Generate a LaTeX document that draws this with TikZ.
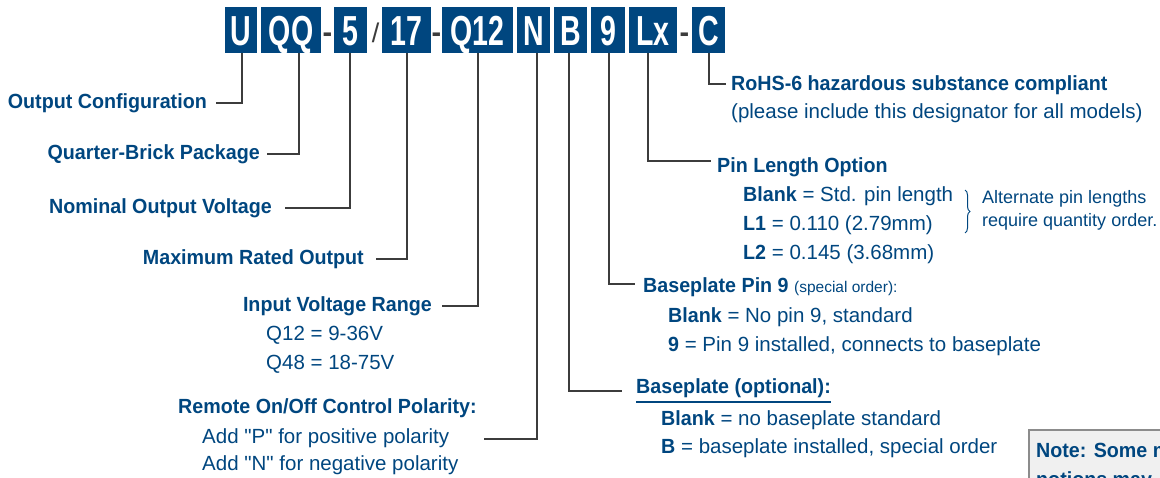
\documentclass[tikz,border=0pt]{standalone}
\usepackage{fontspec}
\setmainfont{Liberation Sans}[Ligatures=TeXOff, BoldFeatures={FakeStretch=0.96}]
\newfontfamily\boxfont{Liberation Sans}[FakeStretch=0.68]
\usetikzlibrary{decorations.pathreplacing}
\definecolor{navy}{RGB}{0,70,127}
\definecolor{linegray}{RGB}{60,60,60}
\definecolor{notefill}{RGB}{240,240,240}
\definecolor{noteedge}{RGB}{140,140,140}
\begin{document}
\begin{tikzpicture}[x=1pt,y=-1pt,
  code/.style={fill=navy, text=white, inner sep=0pt, minimum height=46pt,
    text height=30pt, text depth=0pt, font=\boxfont\bfseries\fontsize{42}{42}\selectfont},
  sepsym/.style={text=linegray, inner sep=0pt, anchor=base, font=\bfseries\fontsize{30}{30}\selectfont},
  slashsym/.style={text=linegray, inner sep=0pt, anchor=base, font=\fontsize{27}{27}\selectfont},
  lbl/.style={text=navy, inner sep=0pt, font=\bfseries\fontsize{20.5}{24}\selectfont},
  txt/.style={text=navy, inner sep=0pt, font=\fontsize{20.5}{24}\selectfont},
  smalltxt/.style={text=navy, inner sep=0pt, font=\fontsize{18}{21}\selectfont},
  conn/.style={draw=linegray, line width=1.1pt},
]
\useasboundingbox (0,0) rectangle (1160,477);
\clip (0,0) rectangle (1160,477);

% code boxes
\node[code, minimum width=32pt] (bU)   at (241,30)   {U};
\node[code, minimum width=60pt] (bQQ)  at (291,30)   {QQ};
\node[code, minimum width=33pt] (b5)   at (350.5,30) {5};
\node[code, minimum width=49pt] (b17)  at (406.5,30) {17};
\node[code, minimum width=71pt] (bQ12) at (477.5,30) {Q12};
\node[code, minimum width=33pt] (bN)   at (533.5,30) {N};
\node[code, minimum width=33pt] (bB)   at (570.5,30) {B};
\node[code, minimum width=34pt] (b9)   at (608,30)   {9};
\node[code, minimum width=48pt] (bLx)  at (653,30)   {Lx};
\node[code, minimum width=33pt] (bC)   at (708.5,30) {C};

\node[sepsym]   (d1) at (327.5,42.5) {-};
\node[slashsym] (s1) at (375.5,42.5) {/};
\node[sepsym]   (d2) at (436.5,42.5) {-};
\node[sepsym]   (d3) at (684.5,42.5) {-};

% left labels
\node[lbl, anchor=east] (lOut) at (207,103) {Output Configuration};
\node[lbl, anchor=east] (lQB)  at (260,154) {Quarter-Brick Package};
\node[lbl, anchor=east] (lNom) at (272,208) {Nominal Output Voltage};
\node[lbl, anchor=east] (lMax) at (364,259) {Maximum Rated Output};
\node[lbl, anchor=east] (lIn)  at (432,306) {Input Voltage Range};
\node[txt, anchor=base west] (lQ12) at (266,340) {Q12 = 9-36V};
\node[txt, anchor=base west] (lQ48) at (266,369) {Q48 = 18-75V};
\node[lbl, anchor=base west] (lRem) at (178,413) {Remote On/Off Control Polarity:};
\node[txt, anchor=base west] (lAddP) at (202,443) {Add "P" for positive polarity};
\node[txt, anchor=base west] (lAddN) at (202,470) {Add "N" for negative polarity};
\coordinate (nEnd) at (484,439);

% right labels
\node[lbl, anchor=base west] (rRoHS) at (731,90) {RoHS-6 hazardous substance compliant};
\node[txt, anchor=base west] (rPls)  at (731,118) {(please include this designator for all models)};
\node[lbl, anchor=base west] (rPin)  at (717,172) {Pin Length Option};
\node[txt, anchor=base west] (rPinA) at (743,201) {\textbf{Blank} = Std. pin length};
\node[txt, anchor=base west] (rPinB) at (743,230) {\textbf{L1} = 0.110 (2.79mm)};
\node[txt, anchor=base west] (rPinC) at (743,259) {\textbf{L2} = 0.145 (3.68mm)};
\node[smalltxt, anchor=base west] (rAlt1) at (982,203) {Alternate pin lengths};
\node[smalltxt, anchor=base west] (rAlt2) at (982,226) {require quantity order.};
\node[lbl, anchor=base west] (rBP9) at (643,292) {Baseplate Pin 9 {\mdseries\fontsize{15.5}{18}\selectfont(special order):}};
\node[txt, anchor=base west] (rBP9a) at (668,322) {\textbf{Blank} = No pin 9, standard};
\node[txt, anchor=base west] (rBP9b) at (668,351) {\textbf{9} = Pin 9 installed, connects to baseplate};
\node[lbl, anchor=base west] (rBPo) at (636,393) {Baseplate (optional):};
\node[txt, anchor=base west] (rBPa) at (661,425) {\textbf{Blank} = no baseplate standard};
\node[txt, anchor=base west] (rBPb) at (661,453) {\textbf{B} = baseplate installed, special order};

% underline and brace
\draw[navy, line width=1.1pt] ([yshift=-9pt]rBPo.base west) -- ([yshift=-9pt]rBPo.base east);
\draw[navy, line width=1pt, decorate, decoration={brace, amplitude=5pt}] (965,190) -- (965,233);

% note box
\draw[fill=notefill, draw=noteedge, line width=1.3pt] (1029,430) rectangle (1200,530);
\node[lbl, anchor=base west] (nt1) at (1036,457) {Note: Some m};
\node[lbl, anchor=base west] (nt2) at (1036,486) {notions may};

% connectors
\draw[conn] ([xshift=1pt]bU.south)    |- ([xshift=9pt]lOut.east);
\draw[conn] ([xshift=8pt]bQQ.south)   |- ([xshift=7pt]lQB.east);
\draw[conn] ([xshift=-0.5pt]b5.south) |- ([xshift=13pt]lNom.east);
\draw[conn] ([xshift=0.5pt]b17.south) |- ([xshift=12pt]lMax.east);
\draw[conn] ([xshift=0.5pt]bQ12.south) |- ([xshift=10pt]lIn.east);
\draw[conn] ([xshift=3.5pt]bN.south)  |- (nEnd);
\draw[conn] ([xshift=-1.5pt]bB.south) |- ([xshift=-14pt,yshift=2pt]rBPo.base west);
\draw[conn] ([xshift=1pt]b9.south)    |- ([xshift=-8pt,yshift=8pt]rBP9.base west);
\draw[conn] ([xshift=-5pt]bLx.south)  |- ([xshift=-6pt,yshift=11pt]rPin.base west);
\draw[conn] ([xshift=0.5pt]bC.south)  |- ([xshift=-5pt,yshift=6pt]rRoHS.base west);
\end{tikzpicture}
\end{document}
